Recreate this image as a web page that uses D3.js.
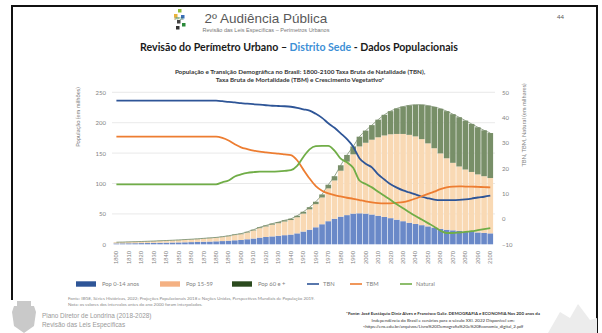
<!DOCTYPE html>
<html><head><meta charset="utf-8">
<script src="https://cdn.jsdelivr.net/npm/d3@7/dist/d3.min.js"></script>
<style>
body{margin:0;background:#fff;}
svg{display:block;font-family:Lato,"Open Sans",sans-serif;}
</style></head>
<body><svg id="c" width="602" height="333"></svg>
<script>
const years = d3.range(1800, 2101, 5);
const pop014 = [1.5,1.6,1.7,1.8,2.0,2.1,2.3,2.5,2.7,2.9,3.1,3.3,3.6,3.9,4.2,4.5,4.9,5.3,5.9,6.6,7.2,8.3,9.5,11.0,12.0,13.0,14.0,15.0,16.0,18.0,21.0,24.0,28.0,33.0,38.0,42.0,45.5,48.0,50.5,51.0,50.5,49.0,47.0,45.0,43.0,40.5,38.0,35.5,33.5,31.5,29.5,27.5,25.5,24.0,23.0,22.0,21.0,20.2,19.5,18.8,18.0];
const pop1559 = [1.8,1.9,2.1,2.3,2.4,2.6,2.8,3.0,3.2,3.5,3.7,4.1,4.4,4.6,5.1,5.6,5.8,6.6,7.4,8.6,9.4,11.2,13.3,15.6,17.4,19.3,20.7,22.5,23.9,26.5,29.5,33.5,38.0,44.0,54.0,63.0,75.5,88.0,97.5,110,116.5,123,129,134,138,141,143.5,144.5,144,141.5,136.5,130.5,124,117.5,111,106,102,98.8,95.5,93.2,91];
const pop60 = [0.2,0.2,0.2,0.2,0.2,0.3,0.3,0.3,0.3,0.3,0.4,0.4,0.4,0.5,0.5,0.5,0.6,0.6,0.7,0.8,0.9,1.0,1.2,1.4,1.6,1.7,1.8,2.0,2.1,2.5,3.0,3.5,4.0,5.0,6.0,7.0,9.0,11.0,13.0,16.0,20.0,24.0,29.0,34.0,38.0,42.0,45.0,48.5,52.0,56.5,62.0,68.0,73.5,77.5,80.0,81.0,80.5,79.0,77.5,75.5,74.0];
const tbn = [46.7,46.7,46.7,46.7,46.7,46.7,46.7,46.7,46.7,46.7,46.7,46.7,46.7,46.7,46.7,46.7,46.7,46.5,46.2,46.0,45.7,45.5,45.3,45.1,44.9,44.7,44.6,44.5,44.3,43.9,43.3,42.8,41.5,39.9,37.8,36.0,33.8,31.5,28.5,24.0,21.8,20.4,17.6,15.6,13.7,12.4,11.3,10.5,9.7,8.8,8.2,7.7,7.5,7.5,7.5,7.6,7.8,8.1,8.5,8.8,9.2];
const tbm = [32.5,32.5,32.5,32.5,32.5,32.5,32.5,32.5,32.5,32.5,32.5,32.5,32.5,32.5,32.5,32.5,32.5,32.0,31.0,29.5,28.3,27.6,27.0,26.6,26.3,26.0,25.8,25.5,25.2,23.2,19.5,16.0,13.0,11.2,10.1,9.4,8.9,8.4,8.0,7.5,7.0,6.6,6.3,6.2,6.2,6.4,6.7,7.3,8.1,9.0,9.9,10.8,11.8,12.5,12.8,12.9,12.8,12.8,12.7,12.6,12.5];
const natural = [13.7,13.7,13.7,13.7,13.7,13.7,13.7,13.7,13.7,13.7,13.7,13.7,13.7,13.7,13.7,13.7,13.7,14.5,15.2,16.8,17.6,18.2,18.5,18.7,18.7,18.7,18.8,19.0,19.3,21.0,24.5,27.5,28.8,28.9,28.9,27.0,23.8,22.4,20.2,15.2,13.8,12.5,10.8,9.2,7.5,5.8,4.3,2.7,1.2,-0.2,-1.6,-3.0,-4.6,-5.5,-5.5,-5.3,-5.1,-4.8,-4.4,-4.0,-3.6];
const leftTicks = [0,50,100,150,200,250];
const rightTicks = [-10,0,10,20,30,40,50];
const xLabels = d3.range(1800, 2101, 10);
const seriesNames = ["Pop 0-14 anos","Pop 15-59","Pop 60 e +","TBN","TBM","Natural"];

const svg = d3.select("#c");
const gray = "#7f7f7f";

// frame
svg.append("path").attr("d","M12,300 L12,6 L597,6 L597,333").attr("fill","none").attr("stroke","#111").attr("stroke-width",2);

// header logo (decorative)
const lg = svg.append("g").attr("transform","translate(172,9)");
[[6,0,"#8fbc3a"],[2,5,"#e8b33a"],[9,6,"#3a6fb8"],[5,11,"#444"],[10,14,"#2a8a3a"],[4,17,"#333"]].forEach(d=>{
  lg.append("rect").attr("x",d[0]).attr("y",d[1]).attr("width",3.5).attr("height",3.5).attr("fill",d[2]);
});
lg.append("text").attr("x",7).attr("y",11).attr("font-size",3.5).attr("fill","#2a6a2a").attr("text-anchor","middle").text("IPPUL");

svg.append("text").attr("x",266).attr("y",23).attr("text-anchor","middle").attr("font-size",13.5).attr("fill","#595959").attr("font-family","Liberation Sans, Arial").text("2º Audiência Pública");
svg.append("text").attr("x",266).attr("y",32).attr("text-anchor","middle").attr("font-size",5.5).attr("fill","#777").attr("font-family","Liberation Sans, Arial").text("Revisão das Leis Específicas – Perímetros Urbanos");
svg.append("text").attr("x",557).attr("y",19).attr("font-size",6).attr("fill","#555").text("44");

const h2 = svg.append("text").attr("x",299).attr("y",51).attr("text-anchor","middle").attr("font-size",10.6).attr("font-weight","bold").attr("fill","#1a1a1a");
h2.append("tspan").text("Revisão do Perímetro Urbano – ");
h2.append("tspan").attr("fill","#3d8fd6").text("Distrito Sede");
h2.append("tspan").text("  - Dados Populacionais");

// chart title
svg.append("text").attr("x",300).attr("y",74).attr("text-anchor","middle").attr("font-size",6.3).attr("font-weight","bold").attr("fill","#333").text("População e Transição Demográfica no Brasil: 1800-2100 Taxa Bruta de Natalidade (TBN),");
svg.append("text").attr("x",300).attr("y",82).attr("text-anchor","middle").attr("font-size",6.3).attr("font-weight","bold").attr("fill","#333").text("Taxa Bruta de Mortalidade (TBM) e Crescimento Vegetativo*");

// scales
const x = d3.scaleBand().domain(years).range([113.6, 493.1]).paddingInner(0.1);
const yL = d3.scaleLinear().domain([0,250]).range([244.3, 92.3]);
const yR = d3.scaleLinear().domain([-10,50]).range([244.4, 92.3]);

// gridlines
svg.append("g").selectAll("line").data(leftTicks.slice(1)).join("line")
  .attr("x1",112).attr("x2",495).attr("y1",d=>yL(d)).attr("y2",d=>yL(d))
  .attr("stroke","#e3e3e3").attr("stroke-width",0.8);

// left axis
const axL = svg.append("g").attr("transform","translate(106,0)").call(d3.axisLeft(yL).tickValues(leftTicks).tickSize(0).tickPadding(0));
axL.select(".domain").remove();
axL.selectAll("text").attr("font-size",6).attr("fill",gray).attr("font-family","Lato, sans-serif");
// right axis
const axR = svg.append("g").attr("transform","translate(502,0)").call(d3.axisRight(yR).tickValues(rightTicks).tickSize(0).tickPadding(0));
axR.select(".domain").remove();
axR.selectAll("text").attr("font-size",6).attr("fill",gray).attr("font-family","Lato, sans-serif");

svg.append("text").attr("transform","translate(80,117) rotate(-90)").attr("text-anchor","middle").attr("font-size",5.8).attr("fill",gray).text("População (em milhões)");
svg.append("text").attr("transform","translate(526,125) rotate(-90)").attr("text-anchor","middle").attr("font-size",5.8).attr("fill",gray).text("TBN, TBM, Natural (em milhares)");

// stacked bars
const table = years.map((yr,i)=>({year:yr, a:pop014[i], b:pop1559[i], c:pop60[i]}));
const stack = d3.stack().keys(["a","b","c"])(table);
const barColors = {a:"#6a89c8", b:"#f9d9b4", c:"#788f68"};
svg.append("g").selectAll("g").data(stack).join("g").attr("fill",s=>barColors[s.key])
  .selectAll("rect").data(s=>s).join("rect")
  .attr("x",d=>x(d.data.year)).attr("width",x.bandwidth())
  .attr("y",d=>yL(d[1])).attr("height",d=>yL(d[0])-yL(d[1]));

// outline on total top (thin grey-green)
const cx = d=>x(d)+x.bandwidth()/2;
svg.append("path").datum(table).attr("fill","none").attr("stroke","#7b8f6e").attr("stroke-width",0.8)
  .attr("d", d3.line().x(d=>cx(d.year)).y(d=>yL(d.a+d.b+d.c)).curve(d3.curveMonotoneX));

// lines
const lineGen = arr => d3.line().x((d,i)=>cx(years[i])).y(d=>yR(d)).curve(d3.curveMonotoneX)(arr);
[[tbn,"#2e5597"],[tbm,"#ed7d31"],[natural,"#70ad47"]].forEach(([arr,col])=>{
  svg.append("path").attr("d",lineGen(arr)).attr("fill","none").attr("stroke",col).attr("stroke-width",1.8);
});

// x axis labels
const axX = svg.append("g").attr("transform","translate(0,251)").call(d3.axisBottom(x).tickValues(xLabels).tickSize(0).tickPadding(0));
axX.select(".domain").remove();
axX.selectAll(".tick text").attr("font-size",5.8).attr("fill",gray)
  .attr("transform","rotate(-90)").attr("text-anchor","end")
  .attr("x",0).attr("y",0).attr("dx",0).attr("dy","0.33em");

// legend
const legX = [76,160,232,307,350,400];
const legColors = ["#2e5597","#f4b183","#2b4a1e","#2e5597","#ed7d31","#70ad47"];
seriesNames.forEach((n,i)=>{
  const g = svg.append("g").attr("transform",`translate(${legX[i]},284)`);
  if(i<3) g.append("rect").attr("x",0).attr("y",-2.7).attr("width",20).attr("height",5.4).attr("fill",legColors[i]);
  else g.append("line").attr("x1",0).attr("x2",12).attr("y1",0).attr("y2",0).attr("stroke",legColors[i]).attr("stroke-width",1.6);
  g.append("text").attr("x", i<3?26:16).attr("y",2).attr("font-size",5.8).attr("fill",gray).text(n);
});

// footer notes
svg.append("text").attr("x",68).attr("y",300).attr("font-size",4.4).attr("fill","#888").text("Fonte: IBGE, Séries Históricas, 2022; Projeções Populacionais 2018 e Nações Unidas, Perspectivas Mundiais de População 2019.");
svg.append("text").attr("x",68).attr("y",306).attr("font-size",4.4).attr("fill","#888").text("Nota: os valores dos intervalos antes do ano 2000 foram interpolados.");

// bottom-left logo (coat of arms, decorative)
const cl = svg.append("g").attr("fill","#c9c9c9");
cl.append("path").attr("d","M14,306 L34,306 L36,312 L34,326 L24,333 L14,326 L12,312 Z");
cl.append("rect").attr("x",17).attr("y",301).attr("width",14).attr("height",5);
svg.append("text").attr("x",42).attr("y",318).attr("font-size",6.4).attr("fill","#999").attr("font-family","Liberation Sans, Arial").text("Plano Diretor de Londrina (2018-2028)");
svg.append("text").attr("x",42).attr("y",327).attr("font-size",6.4).attr("fill","#999").attr("font-family","Liberation Sans, Arial").text("Revisão das Leis Específicas");

// right footnote
const fn = ["*Fonte: José Eustáquio Diniz Alves e Francisco  Galiz. DEMOGRAFIA e ECONOMIA Nos 200 anos da",
  "Independência do Brasil e cenários para o século XXI. 2022 Disponível em:",
  "<https://ens.edu.br/arquivos/Livro%20Demografia%20e%20Economia_digital_2.pdf"];
fn.forEach((t,i)=>svg.append("text").attr("x",443).attr("y",315+i*6.5).attr("text-anchor","middle").attr("font-size",4.4).attr("font-weight",i==0?"bold":"normal").attr("fill","#333").text(t));

// bottom-right decorative building
svg.append("path").attr("d","M548,333 L560,312 L570,318 L578,304 L590,320 L597,318 L597,333 Z").attr("fill","#ececec");
</script></body></html>
